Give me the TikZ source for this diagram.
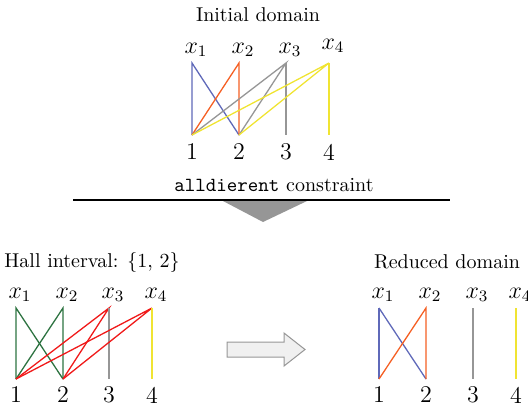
\documentclass[tikz,border=0pt]{standalone}
\usepackage{amsmath}
\usepackage{amssymb}

\definecolor{dblue}{RGB}{95,105,185}
\definecolor{dorange}{RGB}{245,95,35}
\definecolor{dgray}{RGB}{150,150,150}
\definecolor{dyellow}{RGB}{240,228,50}
\definecolor{dgreen}{RGB}{45,115,65}
\definecolor{dred}{RGB}{240,25,25}

\begin{document}
\begin{tikzpicture}[x=0.5pt,y=0.5pt]
\tikzstyle{every node}+=[inner sep=0pt]
\tikzstyle{edge}=[line width=0.65pt]
\tikzstyle{lbl}=[font=\large]
\useasboundingbox (0,0) rectangle (528,-408);
% initial domain
\node (tinit) at (258,-15) {Initial domain};
\coordinate (a1) at (192,-63);
\coordinate (a2) at (239,-63);
\coordinate (a3) at (286,-63);
\coordinate (a4) at (329,-63);
\coordinate (b1) at (192,-135);
\coordinate (b2) at (239,-135);
\coordinate (b3) at (286,-135);
\coordinate (b4) at (329,-135);
\node [lbl] (la1) at (196,-50) {$x_1$};
\node [lbl] (la2) at (243,-50) {$x_2$};
\node [lbl] (la3) at (290,-50) {$x_3$};
\node [lbl] (la4) at (333,-46) {$x_4$};
\node [lbl] (lb1) at (192,-152) {1};
\node [lbl] (lb2) at (239,-152) {2};
\node [lbl] (lb3) at (286,-152) {3};
\node [lbl] (lb4) at (329,-152) {4};
\draw [edge,dblue] (b1) -- (a1) -- (b2);
\draw [edge,dorange] (b1) -- (a2) -- (b2);
\draw [edge,dgray] (b1) -- (a3) -- (b2);
\draw [edge,dgray] (a3) -- (b3);
\draw [edge,dyellow] (b1) -- (a4) -- (b2);
\draw [edge,dyellow] (a4) -- (b4);
% constraint
\node (tcons) at (274,-185) {\texttt{alldierent} constraint};
\coordinate (rl) at (73,-200);
\coordinate (rr) at (450,-200);
\draw [line width=0.6pt] (rl) -- (rr);
\fill [dgray] (223,-201) -- (307,-201) -- (263,-222) -- cycle;
% hall interval
\node (thall) at (92,-262) {Hall interval: \{1, 2\}};
\coordinate (c1) at (16,-308);
\coordinate (c2) at (63,-308);
\coordinate (c3) at (109,-308);
\coordinate (c4) at (152,-308);
\coordinate (d1) at (16,-379);
\coordinate (d2) at (63,-379);
\coordinate (d3) at (109,-379);
\coordinate (d4) at (152,-379);
\node [lbl] (lc1) at (20,-295) {$x_1$};
\node [lbl] (lc2) at (67,-295) {$x_2$};
\node [lbl] (lc3) at (113,-295) {$x_3$};
\node [lbl] (lc4) at (156,-295) {$x_4$};
\node [lbl] (ld1) at (16,-395) {1};
\node [lbl] (ld2) at (63,-395) {2};
\node [lbl] (ld3) at (109,-395) {3};
\node [lbl] (ld4) at (152,-395) {4};
\draw [edge,dgreen] (d1) -- (c1) -- (d2);
\draw [edge,dgreen] (d1) -- (c2) -- (d2);
\draw [edge,dred] (d1) -- (c3) -- (d2);
\draw [edge,dgray] (c3) -- (d3);
\draw [edge,dred] (d1) -- (c4) -- (d2);
\draw [edge,dyellow] (c4) -- (d4);
% block arrow
\draw [line width=0.5pt,dgray,fill=gray!12] (227,-342) -- (284,-342) -- (284,-333) -- (305,-349.5)
  -- (284,-366) -- (284,-357) -- (227,-357) -- cycle;
% reduced domain
\node (tred) at (447,-262) {Reduced domain};
\coordinate (e1) at (379,-308);
\coordinate (e2) at (426,-308);
\coordinate (e3) at (473,-308);
\coordinate (e4) at (516,-308);
\coordinate (f1) at (379,-379);
\coordinate (f2) at (426,-379);
\coordinate (f3) at (473,-379);
\coordinate (f4) at (516,-379);
\node [lbl] (le1) at (383,-295) {$x_1$};
\node [lbl] (le2) at (430,-295) {$x_2$};
\node [lbl] (le3) at (477,-295) {$x_3$};
\node [lbl] (le4) at (520,-295) {$x_4$};
\node [lbl] (lf1) at (379,-395) {1};
\node [lbl] (lf2) at (426,-395) {2};
\node [lbl] (lf3) at (473,-395) {3};
\node [lbl] (lf4) at (516,-395) {4};
\draw [edge,dblue] (e1) -- (f1);
\draw [edge,dblue] (e1) -- (f2);
\draw [edge,dorange] (f1) -- (e2) -- (f2);
\draw [edge,dgray] (e3) -- (f3);
\draw [edge,dyellow] (e4) -- (f4);
\end{tikzpicture}
\end{document}
